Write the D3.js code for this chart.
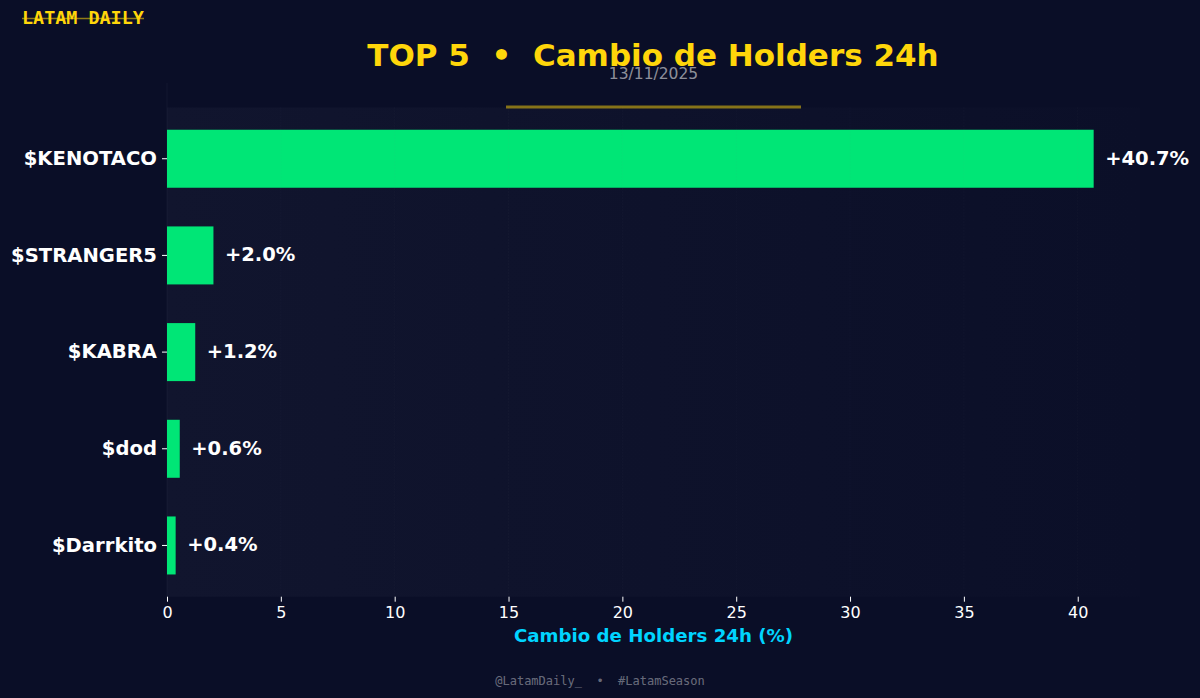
<!DOCTYPE html>
<html>
<head>
<meta charset="utf-8">
<script src="https://cdnjs.cloudflare.com/ajax/libs/d3/7.8.5/d3.min.js"></script>
<style>
html, body { margin: 0; padding: 0; background: #0a0e27; }
svg { display: block; font-family: "DejaVu Sans", sans-serif; }
</style>
</head>
<body>
<div id="chart"></div>
<script>
const tokens = ["$KENOTACO", "$STRANGER5", "$KABRA", "$dod", "$Darrkito"];
const changes = [40.7, 2.04, 1.24, 0.56, 0.38];
const xTicks = [0, 5, 10, 15, 20, 25, 30, 35, 40];

var width = 1200, height = 698;
var margin = { top: 107.5, right: 60, bottom: 101.3, left: 167 };

var svg = d3.select("#chart").append("svg")
	.attr("width", width)
	.attr("height", height);

var x = d3.scaleLinear().domain([0, 42.735]).range([margin.left, width - margin.right]);
var y = d3.scaleBand().domain(tokens)
	.range([margin.top, height - margin.bottom])
	.paddingInner(0.4)
	.paddingOuter(0.23);

// background and plot panel, the panel fades out towards the right
svg.append("rect").attr("width", width).attr("height", height).attr("fill", "#0a0e27");

var defs = svg.append("defs");
var grad = defs.append("linearGradient").attr("id", "panelFade");
grad.append("stop").attr("offset", "0%").attr("stop-color", "#11152e");
grad.append("stop").attr("offset", "50%").attr("stop-color", "#0e122b");
grad.append("stop").attr("offset", "100%").attr("stop-color", "#0b0f28");

svg.append("rect")
	.attr("x", x(0))
	.attr("y", margin.top)
	.attr("width", x.range()[1] - x(0))
	.attr("height", height - margin.top - margin.bottom)
	.attr("fill", "url(#panelFade)");

// faint left spine
svg.append("line")
	.attr("x1", x(0)).attr("x2", x(0))
	.attr("y1", 83).attr("y2", height - margin.bottom)
	.attr("stroke", "#ffffff").attr("stroke-opacity", 0.04);

// bars
svg.selectAll("rect.bar")
	.data(tokens)
	.enter()
	.append("rect")
	.attr("class", "bar")
	.attr("x", x(0))
	.attr("y", function (d) { return y(d); })
	.attr("width", function (d, i) { return x(changes[i]) - x(0); })
	.attr("height", y.bandwidth())
	.attr("fill", "#00e676");

// dotted grid sits on top of the bars
svg.selectAll("line.grid")
	.data(xTicks.slice(1))
	.enter()
	.append("line")
	.attr("class", "grid")
	.attr("x1", function (d) { return x(d); })
	.attr("x2", function (d) { return x(d); })
	.attr("y1", margin.top)
	.attr("y2", height - margin.bottom)
	.attr("stroke", "#8a8f9f")
	.attr("stroke-opacity", 0.08)
	.attr("stroke-dasharray", "1,2");

// value labels
svg.selectAll("text.value")
	.data(tokens)
	.enter()
	.append("text")
	.attr("class", "value")
	.attr("x", function (d, i) { return x(changes[i]) + 11.5; })
	.attr("y", function (d) { return y(d) + y.bandwidth() / 2; })
	.attr("dy", "0.3em")
	.attr("font-size", 19.5)
	.attr("font-weight", "bold")
	.attr("fill", "#ffffff")
	.text(function (d, i) { return "+" + changes[i].toFixed(1) + "%"; });

// axes
var xAxis = svg.append("g")
	.attr("transform", "translate(0," + (height - margin.bottom) + ")")
	.call(d3.axisBottom(x).tickValues(xTicks).tickSize(5).tickPadding(5).tickFormat(d3.format("d")));
xAxis.select(".domain").remove();
xAxis.selectAll("line").attr("stroke", "#ffffff");
xAxis.selectAll("text").attr("fill", "#ffffff").attr("font-size", 16).attr("font-family", "DejaVu Sans");

var yAxis = svg.append("g")
	.attr("transform", "translate(" + x(0) + ",0)")
	.call(d3.axisLeft(y).tickSize(5).tickPadding(5));
yAxis.select(".domain").remove();
yAxis.selectAll("line").attr("stroke", "#ffffff");
yAxis.selectAll("text")
	.attr("fill", "#ffffff")
	.attr("font-size", 19.6)
	.attr("font-weight", "bold")
	.attr("font-family", "DejaVu Sans");

// titles
svg.append("text")
	.attr("x", 653).attr("y", 66)
	.attr("text-anchor", "middle")
	.attr("font-size", 31)
	.attr("font-weight", "bold")
	.attr("fill", "#ffd60a")
	.attr("xml:space", "preserve")
	.text("TOP 5  •  Cambio de Holders 24h");

svg.append("text")
	.attr("x", 653.5).attr("y", 79)
	.attr("text-anchor", "middle")
	.attr("font-size", 15.5)
	.attr("fill", "#ffffff")
	.attr("fill-opacity", 0.55)
	.text("13/11/2025");

svg.append("line")
	.attr("x1", 506).attr("x2", 801)
	.attr("y1", 107).attr("y2", 107)
	.attr("stroke", "#ffd60a")
	.attr("stroke-opacity", 0.5)
	.attr("stroke-width", 3);

svg.append("text")
	.attr("x", 653.5).attr("y", 642)
	.attr("text-anchor", "middle")
	.attr("font-size", 18.2)
	.attr("font-weight", "bold")
	.attr("fill", "#00d4ff")
	.text("Cambio de Holders 24h (%)");

svg.append("text")
	.attr("x", 22).attr("y", 24)
	.attr("font-size", 18.4)
	.attr("font-weight", "bold")
	.attr("font-family", "DejaVu Sans Mono")
	.attr("fill", "#ffd60a")
	.text("LATAM DAILY");

svg.append("line")
	.attr("x1", 22).attr("x2", 144)
	.attr("y1", 18.5).attr("y2", 18.5)
	.attr("stroke", "#ffd60a")
	.attr("stroke-opacity", 0.55)
	.attr("stroke-width", 1.5);

svg.append("text")
	.attr("x", 600).attr("y", 685)
	.attr("text-anchor", "middle")
	.attr("font-size", 12)
	.attr("font-family", "DejaVu Sans Mono")
	.attr("fill", "#ffffff")
	.attr("fill-opacity", 0.4)
	.attr("xml:space", "preserve")
	.text("@LatamDaily_  •  #LatamSeason");
</script>
</body>
</html>
